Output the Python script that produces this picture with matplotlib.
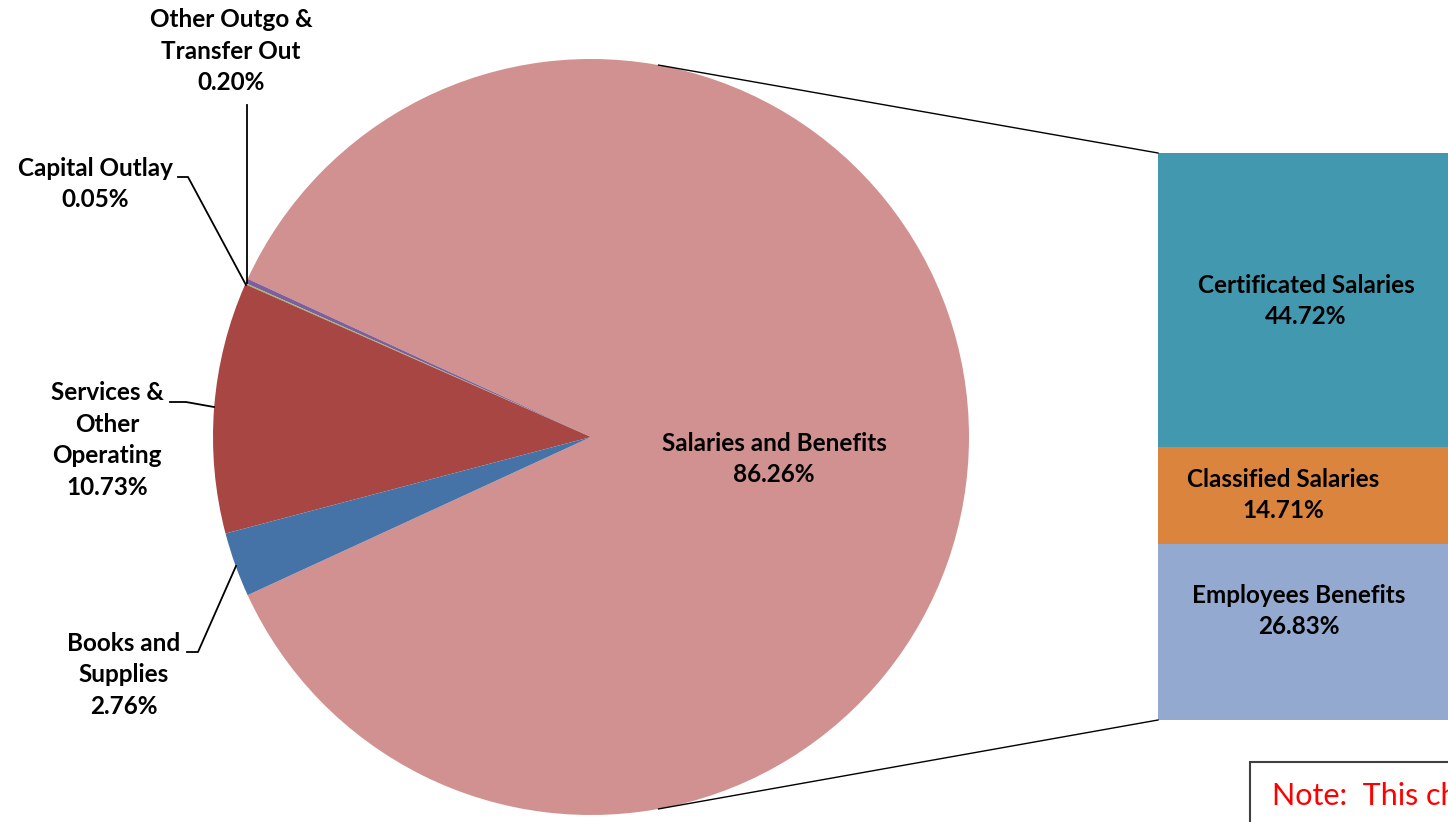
import numpy as np
import matplotlib.pyplot as plt
from matplotlib.patches import Rectangle

# pie data (percent of total)
pie_labels = ['Salaries and Benefits', 'Other Outgo &\nTransfer Out', 'Capital Outlay',
              'Services &\nOther\nOperating', 'Books and\nSupplies']
pie_values = [86.26, 0.20, 0.05, 10.73, 2.76]
pie_colors = ['#D09190', '#7D5FA0', '#9BBB59', '#A84644', '#4573A7']

# breakdown of salaries and benefits
bar_labels = ['Employees Benefits', 'Classified Salaries', 'Certificated Salaries']
bar_values = [26.83, 14.71, 44.72]
bar_colors = ['#94A9CF', '#DB843D', '#4299AF']

plt.rcParams['font.family'] = ['Lato', 'DejaVu Sans']

fig = plt.figure(figsize=(14.48, 8.22), dpi=100)
ax = fig.add_axes([0, 0, 1, 1])

cx, cy, r = 591, 385, 378
start = -pie_values[0] * 3.6 / 2
ax.pie(pie_values, colors=pie_colors, startangle=start, counterclock=True,
       center=(cx, cy), radius=r, wedgeprops=dict(linewidth=0))

# stacked bar on the right
scale = 567 / sum(bar_values)
bx, bw, b0 = 1158, 296, 102
bottom = b0
for v, c in zip(bar_values, bar_colors):
    ax.bar(bx + bw / 2, v * scale, width=bw, bottom=bottom, color=c, linewidth=0)
    bottom += v * scale

# connector lines
a = np.deg2rad(79.7)
ax.plot([cx + r * np.cos(a), bx], [cy + r * np.sin(a), b0 + 567], color='black', lw=1)
ax.plot([cx + r * np.cos(a), bx], [cy - r * np.sin(a), b0], color='black', lw=1)

fs = 17.5
ls = 1.45
tk = dict(fontsize=fs, fontweight='bold', ha='center', va='center', linespacing=ls)

ax.text(774, 822 - 459, f'{pie_labels[0]}\n{pie_values[0]:.2f}%', **tk)
ax.text(231, 822 - 51, f'{pie_labels[1]}\n{pie_values[1]:.2f}%', **tk)
ax.text(95, 822 - 184, f'{pie_labels[2]}\n{pie_values[2]:.2f}%', **tk)
ax.text(107, 822 - 440, f'{pie_labels[3]}\n{pie_values[3]:.2f}%', **tk)
ax.text(124, 822 - 675, f'{pie_labels[4]}\n{pie_values[4]:.2f}%', **tk)

ax.text(1299, 822 - 611, f'{bar_labels[0]}\n{bar_values[0]:.2f}%', **tk)
ax.text(1283, 822 - 495, f'{bar_labels[1]}\n{bar_values[1]:.2f}%', **tk)
ax.text(1306, 822 - 301, f'{bar_labels[2]}\n{bar_values[2]:.2f}%', **tk)

# leader lines
lk = dict(color='black', lw=1.3)
ax.plot([247, 247], [822 - 105, 822 - 283], **lk)
ax.plot([178, 188, 246], [822 - 177, 822 - 177, 822 - 285], **lk)
ax.plot([170, 186, 214], [822 - 402, 822 - 402, 822 - 407], **lk)
ax.plot([187, 198, 236], [822 - 652, 822 - 652, 822 - 566], **lk)

# note box (cut off at the edge)
ax.add_patch(Rectangle((1250, -20), 400, 822 - 762 + 20, fill=False,
                       edgecolor='#404040', lw=1.5))
ax.text(1272, 822 - 796, 'Note:  This chart', color='red', fontsize=22,
        ha='left', va='center')

ax.set_xlim(0, 1448)
ax.set_ylim(0, 822)
ax.set_aspect('equal')
ax.axis('off')

plt.savefig('out.png', dpi=100)
